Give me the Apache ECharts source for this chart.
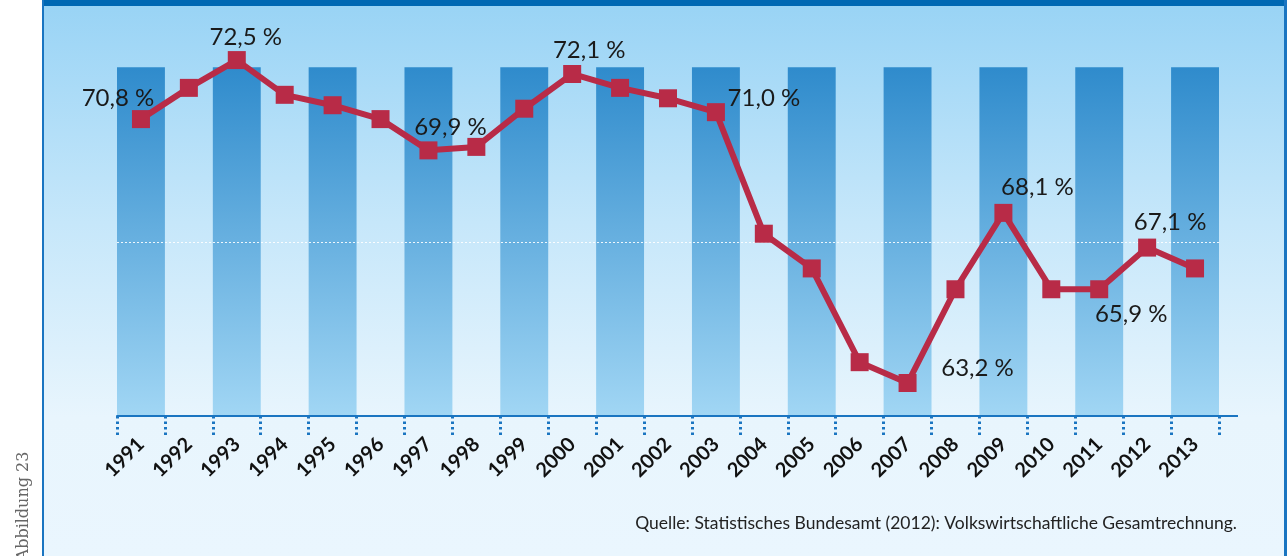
<!DOCTYPE html>
<html>
<head>
<meta charset="utf-8">
<script src="https://cdn.jsdelivr.net/npm/echarts@6/dist/echarts.min.js"></script>
<style>
  html, body { margin: 0; padding: 0; background: #fff; }
  #chart { width: 1287px; height: 556px; }
</style>
</head>
<body>
<div id="chart"></div>
<script>
// Anteil in Prozent, 1991-2013
var years = ['1991','1992','1993','1994','1995','1996','1997','1998','1999','2000','2001','2002',
             '2003','2004','2005','2006','2007','2008','2009','2010','2011','2012','2013'];
var quote = [70.8, 71.7, 72.5, 71.5, 71.2, 70.8, 69.9, 70.0, 71.1, 72.1, 71.7, 71.4,
             71.0, 67.5, 66.5, 63.8, 63.2, 65.9, 68.1, 65.9, 65.9, 67.1, 66.5];
// which points carry a value label
var labelled = [0, 2, 6, 9, 12, 16, 18, 20, 21];
// background stripes (every second year), height as share of plot
var stripeHeight = 0.855;
var guideValue = 67.25;
var sourceText = 'Quelle: Statistisches Bundesamt (2012): Volkswirtschaftliche Gesamtrechnung.';

// label offsets relative to the marker centre
var labelOffset = {
  0: [-23, -21], 2: [9, -23], 6: [22, -23], 9: [17, -24], 12: [48, -14],
  16: [70, -15], 18: [34, -26], 20: [32, 25], 21: [23, -25]
};

var chart = echarts.init(document.getElementById('chart'));

var stripeData = years.map(function (y, i) { return i % 2 === 0 ? stripeHeight : '-'; });

var lineData = quote.map(function (v, i) {
  var item = { value: v };
  if (labelled.indexOf(i) >= 0) {
    item.label = {
      show: true,
      position: 'inside',
      offset: labelOffset[i],
      formatter: function (p) { return p.value.toFixed(1).replace('.', ',') + ' %'; }
    };
  }
  return item;
});

var option = {
  backgroundColor: '#fff',
  animation: false,
  graphic: [
    {
      type: 'rect', z: -10, silent: true,
      shape: { x: 43, y: 0, width: 1244, height: 556 },
      style: {
        fill: new echarts.graphic.LinearGradient(0, 0, 0, 1, [
          { offset: 0, color: '#98d3f5' },
          { offset: 0.4, color: '#c6e7fa' },
          { offset: 0.75, color: '#e8f5fd' },
          { offset: 1, color: '#eaf6fe' }
        ])
      }
    },
    { type: 'rect', z: 10, silent: true, shape: { x: 43, y: 0, width: 1244, height: 6 }, style: { fill: '#0068b3' } },
    { type: 'rect', z: 10, silent: true, shape: { x: 42, y: 0, width: 2, height: 556 }, style: { fill: '#1a75c1' } },
    { type: 'rect', z: 10, silent: true, shape: { x: 1284, y: 0, width: 3, height: 556 }, style: { fill: '#1a75c1' } },
    // axis line runs a little past the last category
    { type: 'rect', z: 10, silent: true, shape: { x: 1218, y: 415, width: 20, height: 2 }, style: { fill: '#1a75c1' } },
    {
      type: 'text', z: 10, silent: true,
      x: 1237, y: 523,
      style: {
        text: sourceText, align: 'right', verticalAlign: 'middle',
        font: '17.5px Lato', fill: '#222'
      }
    },
    {
      type: 'text', z: 10, silent: true,
      x: 24, y: 506, rotation: Math.PI / 2,
      style: {
        text: 'Abbildung 23', align: 'center', verticalAlign: 'middle',
        font: '16px "DejaVu Serif"', fill: '#666'
      }
    }
  ],
  grid: { left: 117, right: 68, top: 8, bottom: 140 },
  xAxis: {
    type: 'category',
    data: years,
    boundaryGap: true,
    z: 10,
    axisLine: { show: true, lineStyle: { color: '#1a75c1', width: 2 } },
    axisTick: {
      show: true, length: 21, alignWithLabel: false,
      lineStyle: { color: '#1a75c1', width: 3, type: [2.5, 3] }
    },
    axisLabel: {
      interval: 0, rotate: 45, margin: 25,
      color: '#111', fontFamily: 'Lato', fontWeight: 'bold', fontSize: 20
    },
    splitLine: { show: false }
  },
  yAxis: [
    { type: 'value', min: 62.25, max: 74, show: false, splitLine: { show: false } },
    { type: 'value', min: 0, max: 1, show: false, splitLine: { show: false } }
  ],
  series: [
    {
      type: 'bar',
      yAxisIndex: 1,
      data: stripeData,
      barWidth: '100%',
      barGap: '-100%',
      silent: true,
      z: 1,
      itemStyle: {
        color: new echarts.graphic.LinearGradient(0, 0, 0, 1, [
          { offset: 0, color: '#2f8bcc' },
          { offset: 1, color: '#a1d6f4' }
        ])
      }
    },
    {
      type: 'line',
      yAxisIndex: 0,
      data: lineData,
      z: 5,
      symbol: 'rect',
      symbolSize: 18,
      lineStyle: { color: '#b82b47', width: 6 },
      itemStyle: { color: '#b82b47' },
      label: {
        show: false,
        color: '#1a1a1a', fontFamily: 'Lato', fontSize: 24
      },
      markLine: {
        silent: true,
        symbol: 'none',
        label: { show: false },
        lineStyle: { color: '#ffffff', type: [2, 2], width: 1, opacity: 0.9 },
        data: [{ yAxis: guideValue }]
      }
    }
  ]
};

chart.setOption(option);
window.addEventListener('resize', chart.resize);
</script>
</body>
</html>
